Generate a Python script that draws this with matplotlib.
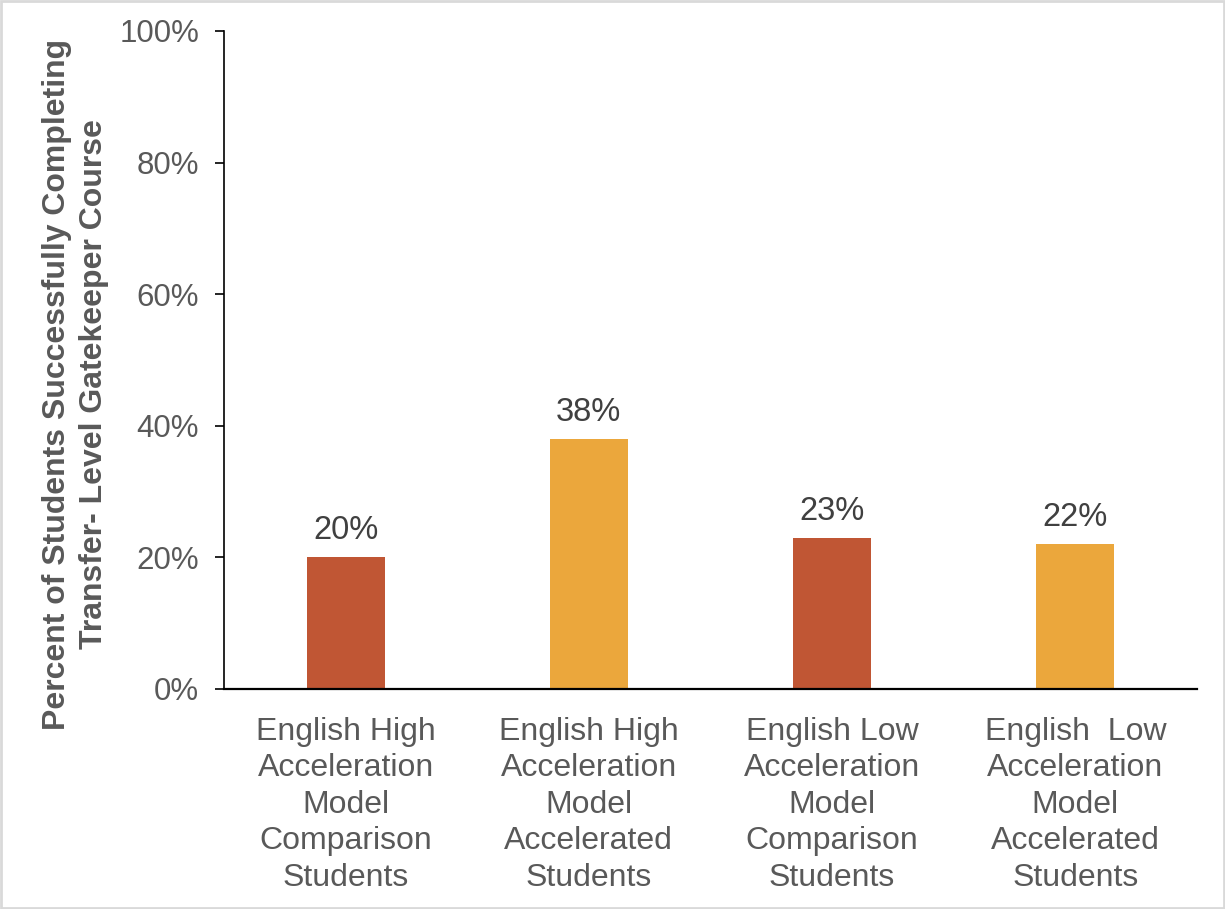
import matplotlib.pyplot as plt
from matplotlib.ticker import PercentFormatter
from matplotlib.patches import Rectangle

plt.rcParams['font.family'] = ['Liberation Sans', 'DejaVu Sans']

groups = ['English High\nAcceleration\nModel\nComparison\nStudents',
          'English High\nAcceleration\nModel\nAccelerated\nStudents',
          'English Low\nAcceleration\nModel\nComparison\nStudents',
          'English  Low\nAcceleration\nModel\nAccelerated\nStudents']
success_pct = [20, 38, 23, 22]
bar_colors = ['#C05634', '#EBA73C', '#C05634', '#EBA73C']

fig = plt.figure(figsize=(12.25, 9.09), dpi=100)
ax = fig.add_axes([224 / 1225, 1 - 689 / 909, 973 / 1225, 658 / 909])

x = range(len(groups))
bars = ax.bar(x, success_pct, width=0.32, color=bar_colors, zorder=2)

# value labels above each bar
for rect, v in zip(bars, success_pct):
    ax.annotate('{}%'.format(v), xy=(rect.get_x() + rect.get_width() / 2, v),
                xytext=(0, 8), textcoords='offset points',
                ha='center', va='bottom', fontsize=23.5, color='#404040')

ax.set_xlim(-0.5, 3.5)
ax.set_ylim(0, 100)
ax.set_yticks(range(0, 101, 20))
ax.yaxis.set_major_formatter(PercentFormatter(decimals=0))
ax.set_xticks(list(x))
ax.set_xticklabels(groups, fontsize=23, color='#595959', linespacing=1.28)
ax.tick_params(axis='x', length=0, pad=20)
ax.tick_params(axis='y', labelsize=22.5, labelcolor='#595959', length=6.5,
               width=1.2, direction='out', pad=11.5)

for side in ['top', 'right']:
    ax.spines[side].set_visible(False)
ax.spines['left'].set_linewidth(1.2)
ax.spines['bottom'].set_linewidth(1.6)

ax.set_ylabel('Percent of Students Successfully Completing\nTransfer- Level Gatekeeper Course',
              fontsize=23, fontweight='bold', color='#595959', linespacing=1.3)
ax.yaxis.set_label_coords(-0.118, 0.4635)

# light frame around the whole figure
fig.patches.append(Rectangle((0.001, 0.001), 0.998, 0.998, transform=fig.transFigure,
                             fill=False, edgecolor='#D9D9D9', linewidth=2))

fig.savefig('out.png', dpi=100)
